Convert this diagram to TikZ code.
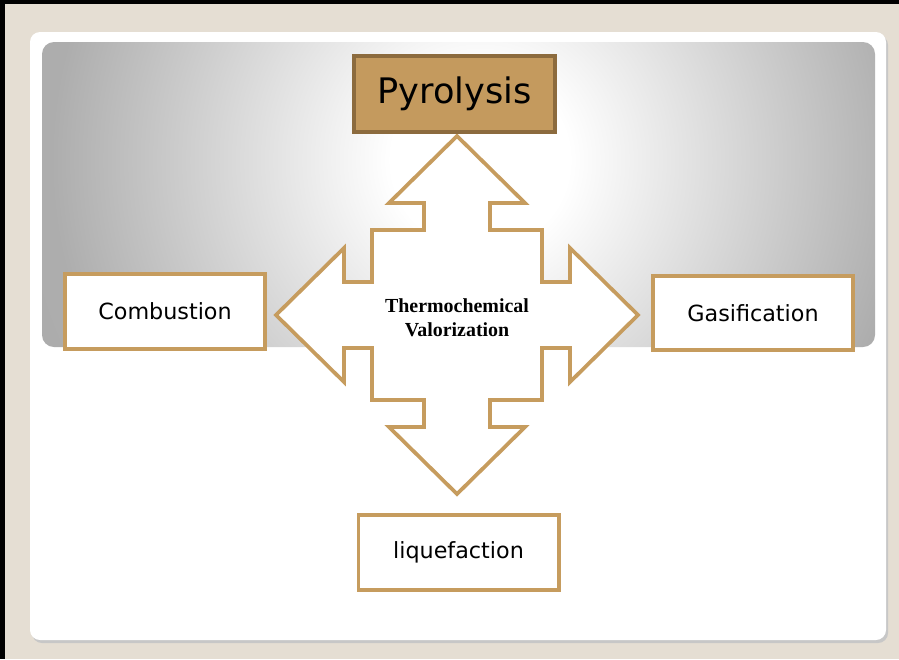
\documentclass[tikz,border=0pt]{standalone}
\usepackage{fontspec}
\setmainfont{Liberation Serif}
\setsansfont{DejaVu Sans}
\usetikzlibrary{positioning}

\definecolor{slidebg}{HTML}{E5DED3}
\definecolor{tanline}{HTML}{C69C5E}
\definecolor{pyrofill}{HTML}{C49A5E}
\definecolor{pyroline}{HTML}{8C6B3E}

\pgfdeclareradialshading{panelglow}{\pgfpointorigin}%
  {color(0bp)=(white); color(5bp)=(white); color(24bp)=(gray!64); color(50bp)=(gray!75)}

\tikzset{
  stagebox/.style={draw=tanline, line width=3.4pt, fill=white, inner sep=0pt,
    minimum width=6cm, minimum height=2.25cm, font=\sffamily\fontsize{19}{23}\selectfont},
  arrowline/.style={draw=tanline, line width=3.2pt, fill=white},
}

\begin{document}
\begin{tikzpicture}[x=0.03cm, y=-0.03cm]
    \useasboundingbox (0,0) rectangle (899,659);
    % slide background and frame
    \fill[slidebg] (0,0) rectangle (899,659);
    \fill[black] (0,0) rectangle (5,659);
    \fill[black] (0,0) rectangle (899,4);
    \fill[black!22, rounded corners=0.3cm] (32,35) rectangle (888,643);
    \fill[white, rounded corners=0.3cm] (30,32) rectangle (886,640);

    % grey glow panel
    \begin{scope}
        \clip[rounded corners=0.36cm] (42,42) rectangle (875,347);
        \shade[shading=panelglow] (35,-285) rectangle (925,605);
    \end{scope}

    % four-way arrow
    \begin{scope}[shift={(457,315)}]
        \draw[arrowline] (0,-179) -- (68,-112) -- (33,-112) -- (33,-85) -- (85,-85)
            -- (85,-33) -- (113,-33) -- (113,-67) -- (181,0) -- (113,67) -- (113,33)
            -- (85,33) -- (85,85) -- (33,85) -- (33,112) -- (68,112) -- (0,179)
            -- (-68,112) -- (-33,112) -- (-33,85) -- (-85,85) -- (-85,33) -- (-113,33)
            -- (-113,67) -- (-181,0) -- (-113,-67) -- (-113,-33) -- (-85,-33)
            -- (-85,-85) -- (-33,-85) -- (-33,-112) -- (-68,-112) -- cycle;
    \end{scope}

    \node[align=center, font=\bfseries\fontsize{17}{20.5}\selectfont] (valor) at (457,317.5)
        {Thermochemical\\Valorization};

    \node[stagebox, fill=pyrofill, draw=pyroline, minimum width=6.03cm, minimum height=2.28cm,
        font=\sffamily\fontsize{30}{36}\selectfont] (pyro) at (454.5,94) {Pyrolysis};
    \node[stagebox] (comb) at (165,311.5) {Combustion};
    \node[stagebox, minimum height=2.22cm] (gasi) at (753,313) {Gasification};
    \node[stagebox] (liq) at (458.5,552.5) {liquefaction};
\end{tikzpicture}
\end{document}
